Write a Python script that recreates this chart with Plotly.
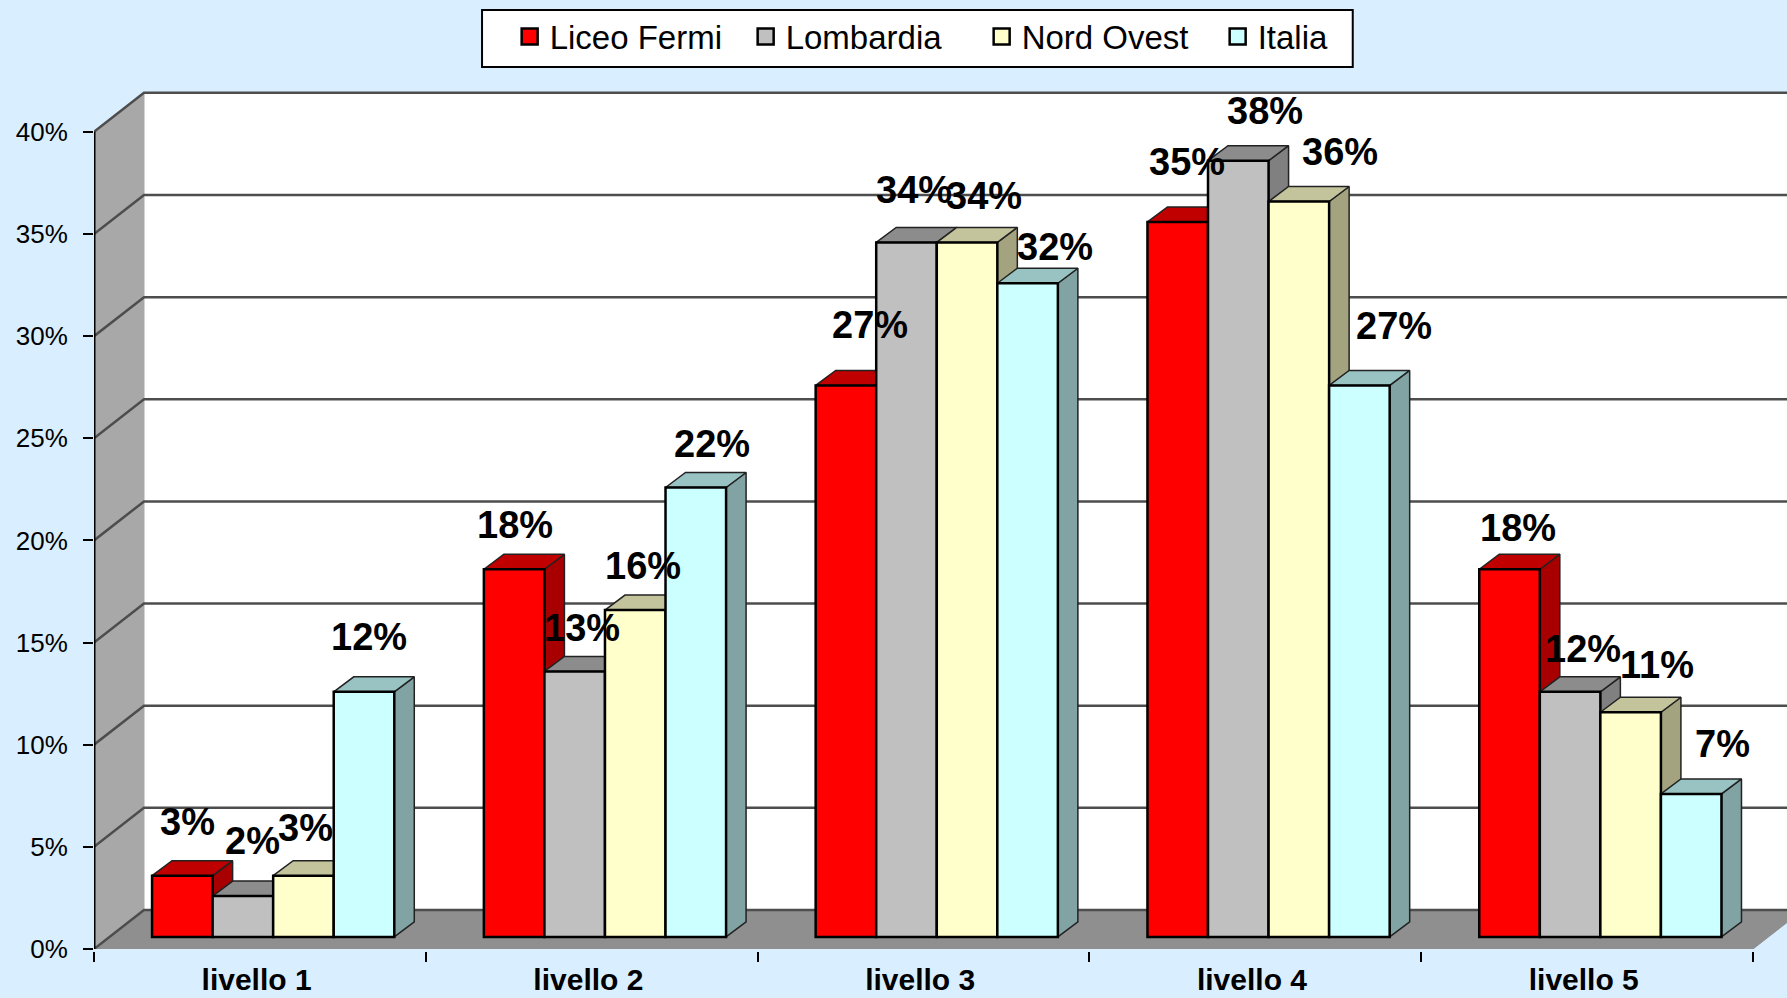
import plotly.graph_objects as go

categories = ["livello 1", "livello 2", "livello 3", "livello 4", "livello 5"]
series_names = ["Liceo Fermi", "Lombardia", "Nord Ovest", "Italia"]
liceo_fermi = [3, 18, 27, 35, 18]
lombardia = [2, 13, 34, 38, 12]
nord_ovest = [3, 16, 34, 36, 11]
italia = [12, 22, 32, 27, 7]
all_values = [liceo_fermi, lombardia, nord_ovest, italia]
y_ticks = [0, 5, 10, 15, 20, 25, 30, 35, 40]

# pixel nudges of the data labels, relative to the top of each bar
label_dx = [[5, 1, 24, 9, 8], [10, 7, 8, 27, 13], [2, 8, 17, 41, 26], [5, 16, 27, 35, 31]]
label_dy = [[54, 44, 60, 60, 41], [55, 43, 52, 50, 43], [48, 44, 46, 50, 47], [55, 44, 36, 59, 50]]

front_colors = ["#ff0000", "#c0c0c0", "#ffffcc", "#ccffff"]
top_colors = ["#c00000", "#8c8c8c", "#c4c49c", "#99c2c2"]
side_colors = ["#a80000", "#808080", "#a3a380", "#82a3a3"]

BG = "#d9eeff"
FONT = "Liberation Sans"

# sizes of the fake 3d box, in axis units
WALL_X, WALL_Y = 0.1507, 1.909
BAR_X, BAR_Y = 0.0603, 0.734
BASE = 0.59
BAR_W = 0.1825
FIRST = 0.175
X_END = 5.1025
n = len(categories)


def poly(xs, ys, fill, line="#333333", width=1, zorder=0):
    return go.Scatter(x=xs + xs[:1], y=ys + ys[:1], mode="lines", fill="toself", fillcolor=fill,
                      line=dict(color=line, width=width), hoverinfo="skip",
                      showlegend=False, zorder=zorder)


fig = go.Figure()

# walls and floor
top = y_ticks[-1]
fig.add_trace(poly([WALL_X, n + WALL_X, n + WALL_X, WALL_X], [WALL_Y, WALL_Y, top + WALL_Y, top + WALL_Y], "#ffffff", "#ffffff"))
fig.add_trace(poly([0, WALL_X, WALL_X, 0], [0, WALL_Y, top + WALL_Y, top], "#a8a8a8", "#a8a8a8"))
fig.add_trace(poly([0, n, n + WALL_X, WALL_X], [0, 0, WALL_Y, WALL_Y], "#8f8f8f", "#8f8f8f"))

# gridlines, along the left wall and then across the back wall
grid_x, grid_y = [], []
for t in y_ticks:
    grid_x += [0, WALL_X, n + WALL_X, None]
    grid_y += [t, t + WALL_Y, t + WALL_Y, None]
fig.add_trace(go.Scatter(x=grid_x, y=grid_y, mode="lines", line=dict(color="#4d4d4d", width=2.5),
                         hoverinfo="skip", showlegend=False))
fig.add_trace(go.Scatter(x=[0, 0], y=[0, top], mode="lines", line=dict(color="black", width=3),
                         hoverinfo="skip", showlegend=False, cliponaxis=False))

annotations = []
for s, values in enumerate(all_values):
    z = 2 * s + 1
    xs = [i + FIRST + (s + 0.5) * BAR_W for i in range(n)]
    for x, v in zip(xs, values):
        left, right = x - BAR_W / 2, x + BAR_W / 2
        h = BASE + v
        fig.add_trace(poly([right, right + BAR_X, right + BAR_X, right],
                           [BASE, BASE + BAR_Y, h + BAR_Y, h], side_colors[s], "#222222", 1.5, z))
        fig.add_trace(poly([left, right, right + BAR_X, left + BAR_X],
                           [h, h, h + BAR_Y, h + BAR_Y], top_colors[s], "#222222", 1.5, z))
    fig.add_trace(go.Bar(x=xs, y=values, base=BASE, width=BAR_W, showlegend=False,
                         marker=dict(color=front_colors[s], line=dict(color="black", width=2.5)),
                         zorder=z + 1))
    # empty trace, only for the larger legend swatch
    fig.add_trace(go.Scatter(x=[None], y=[None], mode="markers", name=series_names[s],
                             marker=dict(symbol="square", size=16, color=front_colors[s],
                                         line=dict(color="black", width=2.5))))
    for i, v in enumerate(values):
        annotations.append(dict(x=xs[i], y=BASE + v, xref="x", yref="y", text=f"{v}%", showarrow=False,
                                xshift=label_dx[s][i], yshift=label_dy[s][i], yanchor="middle",
                                font=dict(family=FONT, size=38, color="black", weight="bold")))

fig.update_layout(
    width=1787,
    height=998,
    margin=dict(l=94, r=0, t=91, b=49, pad=0),
    paper_bgcolor=BG,
    plot_bgcolor=BG,
    barmode="overlay",
    annotations=annotations,
    font=dict(family=FONT, color="black"),
    # legend frame is a rectangle of its own, the entries run a bit wider than it
    shapes=[dict(type="rect", xref="paper", yref="paper", x0=0.2292, x1=0.7435, y0=1.028, y1=1.0944,
                 fillcolor="white", line=dict(color="black", width=2), layer="below")],
    legend=dict(
        orientation="h", xref="container", yref="container", x=0.2852, y=0.9915,
        xanchor="left", yanchor="top", bgcolor="rgba(0,0,0,0)", borderwidth=0,
        font=dict(size=33), entrywidth=191, entrywidthmode="pixels",
    ),
    xaxis=dict(
        range=[0, X_END],
        tickvals=[i + 0.49 for i in range(n)],
        ticktext=categories,
        ticks="",
        tickfont=dict(family=FONT, size=30, weight="bold"),
        ticklabelstandoff=2,
        showgrid=False,
        zeroline=False,
        showline=True,
        linecolor="black",
        linewidth=3,
        automargin=False,
        minor=dict(tickvals=list(range(n + 1)), ticks="outside", ticklen=10, tickwidth=2, tickcolor="black", showgrid=False),
    ),
    yaxis=dict(
        range=[0, 42],
        tickvals=y_ticks,
        ticktext=[f"{t}%" for t in y_ticks],
        ticks="outside",
        ticklen=10,
        tickwidth=2,
        tickcolor="black",
        tickfont=dict(family=FONT, size=26),
        ticklabelstandoff=10,
        showgrid=False,
        zeroline=False,
        showline=False,
        automargin=False,
    ),
)

fig.write_html("out.html", config=dict(displayModeBar=False),
               post_script="document.body.style.margin='0';document.body.style.overflow='hidden';")
